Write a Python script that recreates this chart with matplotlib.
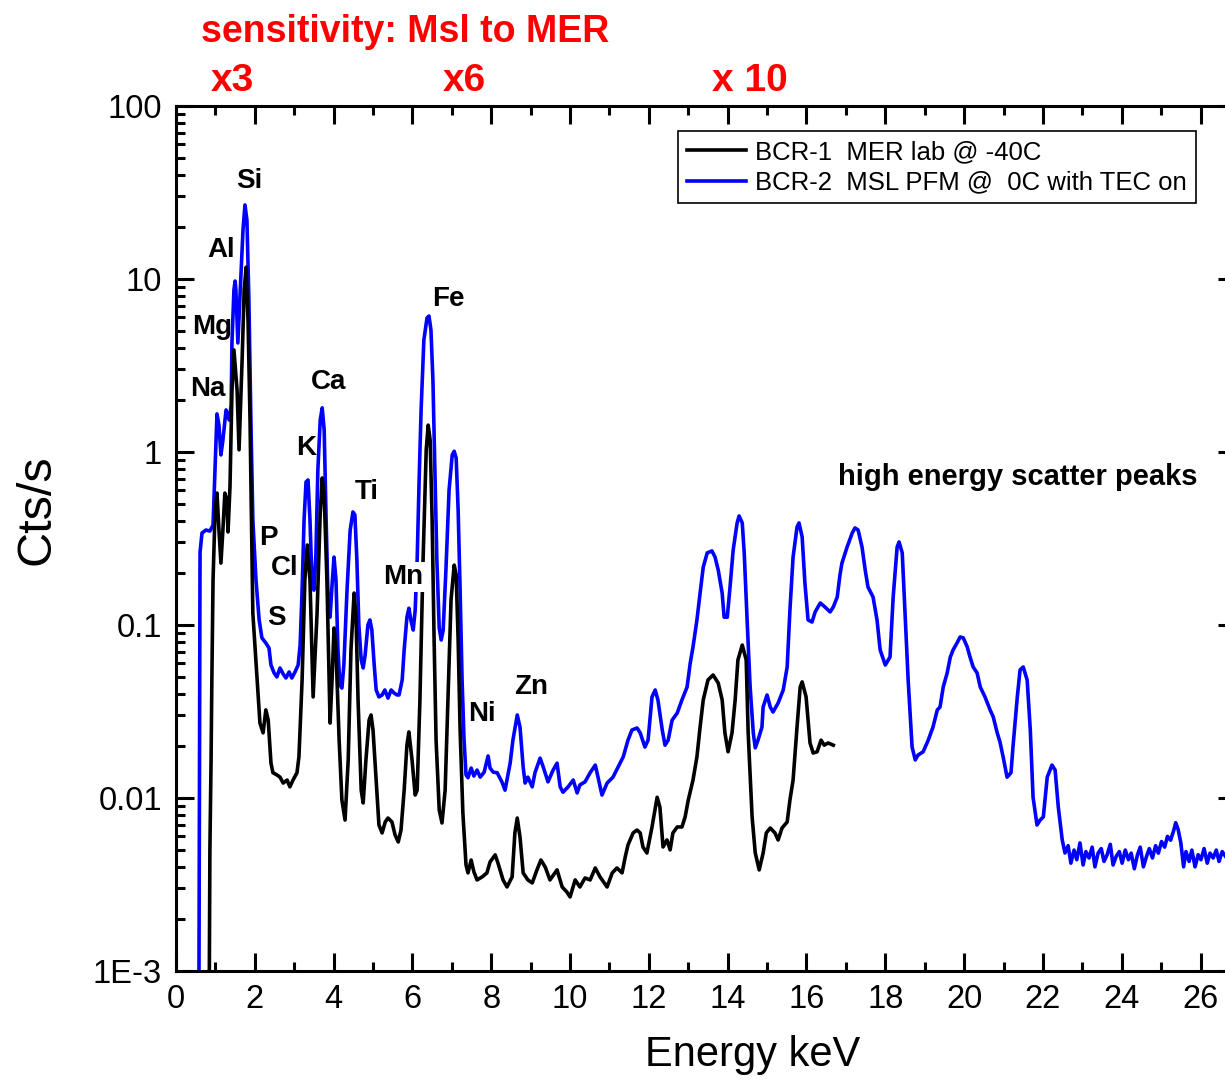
import numpy as np
import matplotlib
matplotlib.use("Agg")
import matplotlib.pyplot as plt
from matplotlib.ticker import MultipleLocator, LogLocator, NullFormatter, FixedLocator, FixedFormatter

plt.rcParams['font.family'] = ['Liberation Sans', 'DejaVu Sans']

# BCR-2, MSL PFM @ 0C with TEC on (blue)
msl_kev = [0.58, 0.61, 0.66, 0.76, 0.86, 0.94, 0.99, 1.04, 1.09, 1.14,
           1.19, 1.27, 1.35, 1.40, 1.42, 1.47, 1.50, 1.52, 1.57, 1.62,
           1.70, 1.75, 1.80, 1.85, 1.90, 1.95, 2.03, 2.11, 2.18, 2.28,
           2.36, 2.41, 2.49, 2.56, 2.64, 2.72, 2.79, 2.87, 2.94, 3.02,
           3.10, 3.15, 3.20, 3.25, 3.30, 3.35, 3.40, 3.45, 3.50, 3.55,
           3.60, 3.66, 3.71, 3.76, 3.81, 3.86, 3.91, 3.96, 4.01, 4.06,
           4.11, 4.16, 4.21, 4.26, 4.34, 4.42, 4.49, 4.54, 4.59, 4.64,
           4.70, 4.75, 4.80, 4.87, 4.92, 4.97, 5.03, 5.08, 5.15, 5.23,
           5.30, 5.38, 5.46, 5.53, 5.61, 5.66, 5.74, 5.79, 5.86, 5.91,
           5.96, 6.02, 6.07, 6.12, 6.17, 6.22, 6.29, 6.37, 6.42, 6.47,
           6.52, 6.57, 6.62, 6.68, 6.73, 6.78, 6.85, 6.93, 7.01, 7.06,
           7.11, 7.16, 7.21, 7.26, 7.31, 7.36, 7.41, 7.49, 7.56, 7.64,
           7.72, 7.82, 7.92, 7.97, 8.05, 8.15, 8.27, 8.35, 8.48, 8.55,
           8.66, 8.73, 8.81, 8.86, 8.93, 9.04, 9.11, 9.24, 9.32, 9.44,
           9.57, 9.67, 9.75, 9.82, 9.95, 10.08, 10.18, 10.25, 10.38, 10.51,
           10.64, 10.71, 10.81, 10.94, 11.09, 11.22, 11.35, 11.47, 11.57, 11.70,
           11.78, 11.90, 11.98, 12.08, 12.16, 12.23, 12.34, 12.41, 12.49, 12.59,
           12.72, 12.84, 12.97, 13.05, 13.12, 13.22, 13.30, 13.38, 13.48, 13.60,
           13.68, 13.76, 13.86, 13.91, 13.99, 14.06, 14.14, 14.24, 14.29, 14.37,
           14.42, 14.49, 14.57, 14.65, 14.70, 14.77, 14.87, 14.90, 15.00, 15.08,
           15.15, 15.28, 15.41, 15.51, 15.58, 15.66, 15.76, 15.81, 15.89, 15.96,
           16.04, 16.14, 16.22, 16.35, 16.47, 16.60, 16.68, 16.78, 16.85, 16.90,
           17.03, 17.16, 17.23, 17.31, 17.41, 17.49, 17.56, 17.69, 17.79, 17.87,
           18.00, 18.12, 18.20, 18.30, 18.35, 18.43, 18.50, 18.58, 18.68, 18.76,
           18.83, 18.96, 19.09, 19.21, 19.32, 19.39, 19.47, 19.57, 19.65, 19.72,
           19.82, 19.90, 19.98, 20.08, 20.15, 20.23, 20.33, 20.41, 20.53, 20.66,
           20.74, 20.84, 20.91, 20.99, 21.09, 21.19, 21.24, 21.35, 21.42, 21.50,
           21.60, 21.68, 21.75, 21.85, 21.93, 22.01, 22.11, 22.23, 22.31, 22.39,
           22.49, 22.56]
msl_cts = [0.0005, 0.264, 0.340, 0.354, 0.349, 0.378, 0.787, 1.66, 1.43, 0.962,
           1.17, 1.75, 1.53, 1.87, 4.27, 8.64, 9.73, 8.64, 4.27, 7.56,
           19.2, 26.8, 21.9, 7.56, 1.53, 0.405, 0.182, 0.107, 0.0842, 0.0787,
           0.0736, 0.0587, 0.0528, 0.0501, 0.0564, 0.0521, 0.0494, 0.0535, 0.0494, 0.0535,
           0.0587, 0.0766, 0.159, 0.405, 0.671, 0.689, 0.405, 0.182, 0.159, 0.254,
           0.787, 1.53, 1.80, 1.34, 0.405, 0.140, 0.111, 0.170, 0.247, 0.182,
           0.0717, 0.0450, 0.0432, 0.0587, 0.159, 0.354, 0.450, 0.433, 0.238, 0.100,
           0.0628, 0.0564, 0.0671, 0.100, 0.107, 0.0935, 0.0587, 0.0421, 0.0384, 0.0394,
           0.0421, 0.0378, 0.0421, 0.0405, 0.0394, 0.0394, 0.0481, 0.0717, 0.111, 0.125,
           0.107, 0.0935, 0.122, 0.238, 0.689, 1.75, 4.44, 5.95, 6.11, 5.07,
           2.61, 0.787, 0.238, 0.0961, 0.0819, 0.0935, 0.208, 0.603, 0.962, 1.01,
           0.923, 0.462, 0.159, 0.0481, 0.0216, 0.0136, 0.0131, 0.0149, 0.0134, 0.0145,
           0.0132, 0.0141, 0.0175, 0.0149, 0.0141, 0.0140, 0.0124, 0.0111, 0.0159, 0.0216,
           0.0302, 0.0257, 0.0151, 0.0122, 0.0132, 0.0116, 0.0140, 0.0170, 0.0151, 0.0124,
           0.0145, 0.0159, 0.0116, 0.0108, 0.0116, 0.0127, 0.0107, 0.0119, 0.0124, 0.0140,
           0.0155, 0.0132, 0.0104, 0.0122, 0.0132, 0.0151, 0.0173, 0.0216, 0.0247, 0.0254,
           0.0238, 0.0197, 0.0216, 0.0384, 0.0421, 0.0369, 0.0247, 0.0202, 0.0216, 0.0282,
           0.0310, 0.0369, 0.0438, 0.0603, 0.0746, 0.107, 0.153, 0.216, 0.261, 0.268,
           0.247, 0.208, 0.153, 0.111, 0.111, 0.166, 0.272, 0.389, 0.427, 0.389,
           0.261, 0.111, 0.0438, 0.0238, 0.0195, 0.0216, 0.0257, 0.0336, 0.0394, 0.0336,
           0.0314, 0.0354, 0.0421, 0.0572, 0.122, 0.247, 0.368, 0.389, 0.323, 0.175,
           0.107, 0.104, 0.119, 0.134, 0.127, 0.119, 0.127, 0.145, 0.195, 0.228,
           0.282, 0.340, 0.364, 0.354, 0.282, 0.208, 0.166, 0.145, 0.107, 0.0717,
           0.0587, 0.0653, 0.145, 0.282, 0.302, 0.261, 0.117, 0.0481, 0.0197, 0.0166,
           0.0177, 0.0185, 0.0216, 0.0257, 0.0323, 0.0336, 0.0438, 0.0528, 0.0653, 0.0717,
           0.0787, 0.0853, 0.0842, 0.0746, 0.0653, 0.0572, 0.0528, 0.0438, 0.0384, 0.0323,
           0.0294, 0.0238, 0.0211, 0.0173, 0.0132, 0.0140, 0.0197, 0.0384, 0.0550, 0.0572,
           0.0481, 0.0247, 0.0101, 0.00698, 0.00746, 0.00777, 0.0132, 0.0155, 0.0145, 0.00887,
           0.00572, 0.00481]

# noisy tail of the blue spectrum above 22.6 keV
tail_kev = [22.64, 22.71, 22.79, 22.86, 22.94, 23.02, 23.09, 23.17, 23.25, 23.32,
            23.40, 23.48, 23.55, 23.63, 23.71, 23.78, 23.86, 23.94, 24.01, 24.09,
            24.17, 24.24, 24.32, 24.40, 24.47, 24.55, 24.63, 24.70, 24.78, 24.86,
            24.93, 25.01, 25.09, 25.16, 25.24, 25.32, 25.37, 25.43, 25.50, 25.57,
            25.63, 25.71, 25.78, 25.86, 25.94, 26.01, 26.09, 26.17, 26.24, 26.32,
            26.40, 26.47, 26.55, 26.63, 26.70, 26.78, 26.86, 26.94]
tail_cts = [0.0053, 0.0042, 0.0050, 0.0044, 0.0055, 0.0041, 0.0049, 0.0045, 0.0052, 0.0040,
            0.0048, 0.0051, 0.0043, 0.0047, 0.0054, 0.0041, 0.0046, 0.0049, 0.0042, 0.0050,
            0.0044, 0.0048, 0.0039, 0.0047, 0.0052, 0.0040, 0.0046, 0.0051, 0.0045, 0.0053,
            0.0048, 0.0056, 0.0052, 0.0060, 0.0057, 0.0065, 0.0072, 0.0066, 0.0055, 0.0040,
            0.0049, 0.0043, 0.0050, 0.0040, 0.0047, 0.0044, 0.0051, 0.0042, 0.0048, 0.0045,
            0.0050, 0.0043, 0.0049, 0.0046, 0.0044, 0.0050, 0.0045, 0.0047]

# BCR-1, MER lab @ -40C (black)
mer_kev = [0.84, 0.86, 0.89, 0.91, 0.94, 0.99, 1.04, 1.09, 1.14, 1.19,
           1.24, 1.29, 1.32, 1.37, 1.42, 1.47, 1.55, 1.60, 1.68, 1.73,
           1.78, 1.83, 1.88, 1.90, 1.95, 2.06, 2.13, 2.21, 2.28, 2.34,
           2.41, 2.46, 2.56, 2.64, 2.72, 2.82, 2.89, 2.97, 3.07, 3.12,
           3.20, 3.27, 3.33, 3.40, 3.48, 3.58, 3.66, 3.71, 3.76, 3.83,
           3.91, 3.96, 4.01, 4.06, 4.14, 4.21, 4.29, 4.37, 4.44, 4.52,
           4.57, 4.62, 4.70, 4.75, 4.82, 4.90, 4.95, 5.00, 5.08, 5.15,
           5.23, 5.31, 5.38, 5.48, 5.56, 5.64, 5.71, 5.79, 5.86, 5.91,
           5.99, 6.07, 6.12, 6.19, 6.27, 6.35, 6.40, 6.45, 6.50, 6.55,
           6.60, 6.68, 6.75, 6.83, 6.90, 6.98, 7.06, 7.11, 7.16, 7.21,
           7.28, 7.36, 7.41, 7.49, 7.56, 7.64, 7.77, 7.89, 7.97, 8.10,
           8.17, 8.30, 8.40, 8.53, 8.60, 8.66, 8.73, 8.81, 8.93, 9.04,
           9.16, 9.26, 9.37, 9.49, 9.67, 9.80, 9.92, 10.00, 10.13, 10.25,
           10.38, 10.51, 10.64, 10.76, 10.94, 11.07, 11.19, 11.32, 11.40, 11.47,
           11.60, 11.70, 11.78, 11.85, 11.95, 12.08, 12.21, 12.28, 12.36, 12.46,
           12.54, 12.61, 12.72, 12.84, 12.92, 13.00, 13.12, 13.22, 13.30, 13.38,
           13.50, 13.63, 13.76, 13.86, 13.93, 14.01, 14.11, 14.19, 14.26, 14.37,
           14.47, 14.52, 14.62, 14.70, 14.80, 14.90, 14.98, 15.08, 15.20, 15.28,
           15.38, 15.51, 15.58, 15.66, 15.76, 15.84, 15.89, 15.99, 16.09, 16.17,
           16.27, 16.37, 16.45, 16.55, 16.68]
mer_cts = [0.0005, 0.0050, 0.0166, 0.0481, 0.182, 0.444, 0.579, 0.354, 0.228, 0.354,
           0.579, 0.528, 0.345, 0.628, 2.28, 3.89, 2.28, 1.03, 3.54, 8.64,
           11.7, 5.57, 1.47, 0.689, 0.117, 0.0481, 0.0271, 0.0238, 0.0323, 0.0282,
           0.0159, 0.0140, 0.0136, 0.0132, 0.0122, 0.0127, 0.0116, 0.0127, 0.0140, 0.0173,
           0.0481, 0.182, 0.290, 0.182, 0.0384, 0.117, 0.444, 0.708, 0.564, 0.182,
           0.0271, 0.0481, 0.0961, 0.0717, 0.0216, 0.00973, 0.00746, 0.0166, 0.0717, 0.153,
           0.107, 0.0369, 0.0111, 0.00936, 0.0166, 0.0282, 0.0302, 0.0247, 0.0127, 0.00698,
           0.00628, 0.00727, 0.00766, 0.00727, 0.00611, 0.00557, 0.00653, 0.0111, 0.0202, 0.0241,
           0.0166, 0.0104, 0.0111, 0.0369, 0.238, 1.03, 1.43, 1.17, 0.405, 0.0819,
           0.0216, 0.00853, 0.00717, 0.0111, 0.0369, 0.140, 0.222, 0.195, 0.0819, 0.0247,
           0.00819, 0.00410, 0.00369, 0.00438, 0.00374, 0.00336, 0.00350, 0.00369, 0.00427, 0.00469,
           0.00421, 0.00336, 0.00306, 0.00350, 0.00628, 0.00766, 0.00595, 0.00369, 0.00336, 0.00323,
           0.00384, 0.00438, 0.00399, 0.00336, 0.00384, 0.00306, 0.00286, 0.00268, 0.00336, 0.00306,
           0.00345, 0.00336, 0.00394, 0.00350, 0.00306, 0.00369, 0.00394, 0.00369, 0.00456, 0.00535,
           0.00628, 0.00653, 0.00628, 0.00521, 0.00481, 0.00680, 0.0101, 0.00887, 0.00521, 0.00572,
           0.00501, 0.00628, 0.00680, 0.00680, 0.00777, 0.00973, 0.0127, 0.0173, 0.0257, 0.0369,
           0.0481, 0.0514, 0.0462, 0.0369, 0.0238, 0.0185, 0.0238, 0.0369, 0.0628, 0.0766,
           0.0628, 0.0238, 0.00777, 0.00481, 0.00384, 0.00481, 0.00628, 0.00671, 0.00628, 0.00572,
           0.00671, 0.00727, 0.00973, 0.0127, 0.0257, 0.0438, 0.0469, 0.0384, 0.0208, 0.0182,
           0.0185, 0.0216, 0.0202, 0.0208, 0.0202]

# element labels: name, energy (keV), counts at text baseline
el_names = ["Na", "Mg", "Al", "Si", "P", "S", "Cl", "K", "Ca", "Ti", "Mn", "Fe", "Ni", "Zn"]
el_kev = [0.81, 0.91, 1.14, 1.87, 2.34, 2.55, 2.77, 3.30, 3.88, 4.84, 5.76, 6.90, 7.77, 9.02]
el_cts = [2.11, 4.81, 13.4, 33.6, 0.290, 0.100, 0.195, 0.962, 2.31, 0.535, 0.173, 6.98, 0.0279, 0.0399]

yticks = [1e-3, 1e-2, 1e-1, 1, 10, 100]
ytick_labels = ["1E-3", "0.01", "0.1", "1", "10", "100"]

mer_label = "BCR-1  MER lab @ -40C"
msl_label = "BCR-2  MSL PFM @  0C with TEC on"

fig = plt.figure(figsize=(12.25, 10.8), dpi=100)
ax = fig.add_axes([176 / 1225, 109 / 1080, 1060 / 1225, 865 / 1080])

blue_x = msl_kev + tail_kev
blue_y = msl_cts + tail_cts
ax.plot(blue_x, blue_y, color="#0000ff", lw=2.6, label=msl_label, zorder=2)
ax.plot(mer_kev, mer_cts, color="black", lw=2.6, label=mer_label, zorder=3)

ax.set_yscale("log")
ax.set_ylim(1e-3, 100)
ax.set_xlim(0, 26.9)

ax.yaxis.set_major_locator(FixedLocator(yticks))
ax.yaxis.set_major_formatter(FixedFormatter(ytick_labels))
ax.yaxis.set_minor_locator(LogLocator(base=10, subs=np.arange(2, 10), numticks=20))
ax.yaxis.set_minor_formatter(NullFormatter())
ax.xaxis.set_major_locator(MultipleLocator(2))
ax.xaxis.set_minor_locator(MultipleLocator(1))

ax.tick_params(which="both", direction="in", top=True, right=True, width=2.2, labelsize=23.5)
ax.tick_params(which="major", length=13)
ax.tick_params(which="minor", length=6.5)
ax.tick_params(axis="y", pad=10)
ax.tick_params(axis="x", pad=9)
for s in ax.spines.values():
    s.set_linewidth(2.2)

fig.text(37 / 1225, 1 - 510 / 1080, "Cts/s", rotation=90, ha="center", va="center", fontsize=35)
fig.text(753 / 1225, 1 - 1055 / 1080, "Energy keV", ha="center", va="center", fontsize=30)

# element annotations
for name, xk, yc in zip(el_names, el_kev, el_cts):
    if name == "Mn":
        ax.text(xk, yc, name, ha="center", va="baseline", fontsize=20, fontweight="bold",
                bbox=dict(facecolor="white", edgecolor="none", pad=1.5), zorder=5)
    else:
        ax.text(xk, yc, name, ha="center", va="baseline", fontsize=20, fontweight="bold", zorder=5)
ax.text(21.36, 0.644, "high energy scatter peaks", ha="center", va="baseline",
        fontsize=21, fontweight="bold")

# red header
fig.text(405 / 1225, 1 - 42 / 1080, "sensitivity: Msl to MER", ha="center", va="baseline",
         fontsize=27, fontweight="bold", color="#ff0000")
fig.text(232 / 1225, 1 - 91 / 1080, "x3", ha="center", va="baseline",
         fontsize=28, fontweight="bold", color="#ff0000")
fig.text(464 / 1225, 1 - 91 / 1080, "x6", ha="center", va="baseline",
         fontsize=28, fontweight="bold", color="#ff0000")
fig.text(750 / 1225, 1 - 91 / 1080, "x 10", ha="center", va="baseline",
         fontsize=28, fontweight="bold", color="#ff0000")

handles, labels = ax.get_legend_handles_labels()
leg = ax.legend(handles[::-1], labels[::-1], loc="upper left", bbox_to_anchor=(0.4735, 0.971),
                borderaxespad=0, fontsize=18.5, fancybox=False, edgecolor="black", framealpha=1,
                handlelength=2.3, handletextpad=0.35, labelspacing=0.25, borderpad=0.35)
leg.get_frame().set_linewidth(1.2)

fig.savefig("out.png", dpi=100)
